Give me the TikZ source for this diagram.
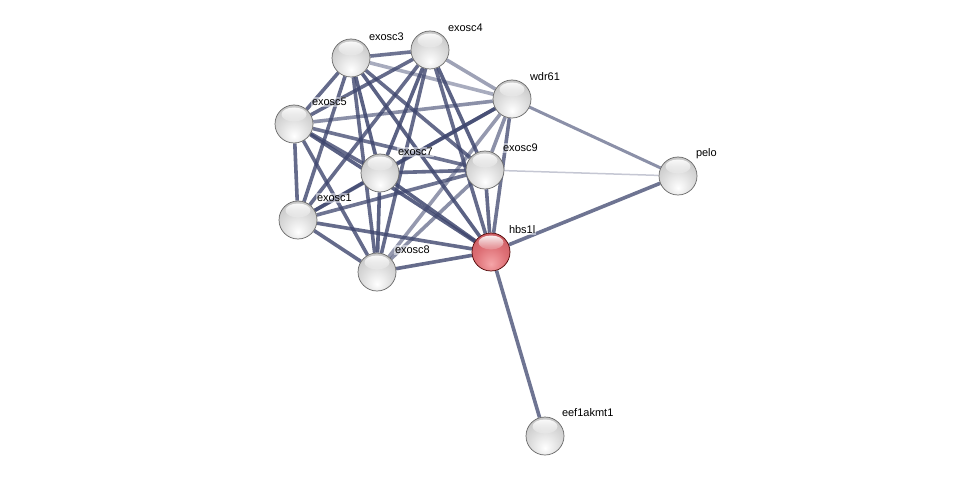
\documentclass[tikz,border=0pt]{standalone}
\usepackage{fontspec}
\setmainfont{Liberation Sans}
\usetikzlibrary{backgrounds,fadings}
\definecolor{edgec}{RGB}{62,70,110}
\definecolor{gbA}{RGB}{220,220,220}
\definecolor{gbB}{RGB}{186,186,186}
\definecolor{gbC}{RGB}{135,135,135}
\definecolor{rbO}{RGB}{245,165,168}
\definecolor{rbA}{RGB}{222,112,118}
\definecolor{rbB}{RGB}{196,84,90}
\definecolor{rbC}{RGB}{150,52,58}
\pgfdeclareradialshading{grayball}{\pgfpoint{0bp}{-16bp}}{color(0bp)=(white);color(20bp)=(gbA);color(42bp)=(gbB);color(60bp)=(gbC);color(80bp)=(gbC)}
\pgfdeclareradialshading{redball}{\pgfpoint{0bp}{-16bp}}{color(0bp)=(rbO);color(20bp)=(rbA);color(42bp)=(rbB);color(60bp)=(rbC);color(80bp)=(rbC)}
\tikzset{
  prot/.style={circle, minimum size=38pt, inner sep=0pt, shading=grayball, draw=gray!80!black, line width=0.7pt},
  query/.style={prot, shading=redball, draw=red!30!black},
  shine/.style={fill=white, path fading=south, fill opacity=0.9},
  lab/.style={anchor=west, inner sep=0.8pt, fill=white, fill opacity=0.5, text opacity=1, font=\fontsize{11}{11}\selectfont},
  edge/.style={draw=edgec, line width=3.6pt},
}
\begin{document}
\begin{tikzpicture}[x=1pt,y=-1pt]
\useasboundingbox (0,0) rectangle (976,481);
\node[prot] (e3) at (351,58) {};
\node[prot] (e4) at (430,50) {};
\node[prot] (w)  at (512,99) {};
\node[prot] (e5) at (294,124) {};
\node[prot] (e7) at (380,173) {};
\node[prot] (e9) at (485,170) {};
\node[prot] (p)  at (678,176) {};
\node[prot] (e1) at (298,220) {};
\node[query] (h) at (491,252) {};
\node[prot] (e8) at (377,272) {};
\node[prot] (k)  at (545,436) {};
\foreach \n in {e3,e4,w,e5,e7,e9,p,e1,h,e8,k}{
  \fill[shine] (\n.center) ++(0,-9.5) ellipse [x radius=12.5, y radius=7];
}
\node[lab] (le3) at (368,37) {exosc3};
\node[lab] (le4) at (447,28) {exosc4};
\node[lab] (lw)  at (529,77) {wdr61};
\node[lab] (le5) at (311,102) {exosc5};
\node[lab] (le7) at (397,152) {exosc7};
\node[lab] (le9) at (502,148) {exosc9};
\node[lab] (lp)  at (695,154) {pelo};
\node[lab] (le1) at (316,198) {exosc1};
\node[lab] (lh)  at (508,230) {hbs1l};
\node[lab] (le8) at (394,250) {exosc8};
\node[lab] (lk)  at (561,413) {eef1akmt1};
\begin{scope}[on background layer]
% exosome cluster
\draw[edge, opacity=0.75] (e3) -- (e4);
\draw[edge, opacity=0.45] (e3) -- (w);
\draw[edge, opacity=0.8] (e3) -- (e5);
\draw[edge, opacity=0.85] (e3) -- (e7);
\draw[edge, opacity=0.8] (e3) -- (e9);
\draw[edge, opacity=0.8] (e3) -- (e1);
\draw[edge, opacity=0.85] (e3) -- (h);
\draw[edge, opacity=0.8] (e3) -- (e8);
\draw[edge, opacity=0.5] (e4) -- (w);
\draw[edge, opacity=0.8] (e4) -- (e5);
\draw[edge, opacity=0.85] (e4) -- (e7);
\draw[edge, opacity=0.85] (e4) -- (e9);
\draw[edge, opacity=0.8] (e4) -- (e1);
\draw[edge, opacity=0.8] (e4) -- (h);
\draw[edge, opacity=0.8] (e4) -- (e8);
\draw[edge, opacity=0.6] (w) -- (e5);
\draw[edge, opacity=0.85] (w) -- (e7);
\draw[edge, opacity=0.6] (w) -- (e9);
\draw[edge, opacity=0.6] (w) -- (e1);
\draw[edge, opacity=0.75] (w) -- (h);
\draw[edge, opacity=0.55] (w) -- (e8);
\draw[edge, opacity=0.8] (e5) -- (e7);
\draw[edge, opacity=0.75] (e5) -- (e9);
\draw[edge, opacity=0.8] (e5) -- (e1);
\draw[edge, opacity=0.85] (e5) -- (h);
\draw[edge, opacity=0.8] (e5) -- (e8);
\draw[edge, opacity=0.8] (e7) -- (e9);
\draw[edge, opacity=0.85] (e7) -- (e1);
\draw[edge, opacity=0.85] (e7) -- (h);
\draw[edge, opacity=0.85] (e7) -- (e8);
\draw[edge, opacity=0.75] (e9) -- (e1);
\draw[edge, opacity=0.8] (e9) -- (h);
\draw[edge, opacity=0.6] (e9) -- (e8);
\draw[edge, opacity=0.8] (e1) -- (h);
\draw[edge, opacity=0.8] (e1) -- (e8);
\draw[edge, opacity=0.8] (e8) -- (h);
% outer partners
\draw[edge, opacity=0.6, line width=3pt] (w) -- (p);
\draw[edge, opacity=0.3, line width=1.5pt] (e9) -- (p);
\draw[edge, opacity=0.75] (h) -- (p);
\draw[edge, opacity=0.75] (h) -- (k);
\end{scope}
\end{tikzpicture}
\end{document}
